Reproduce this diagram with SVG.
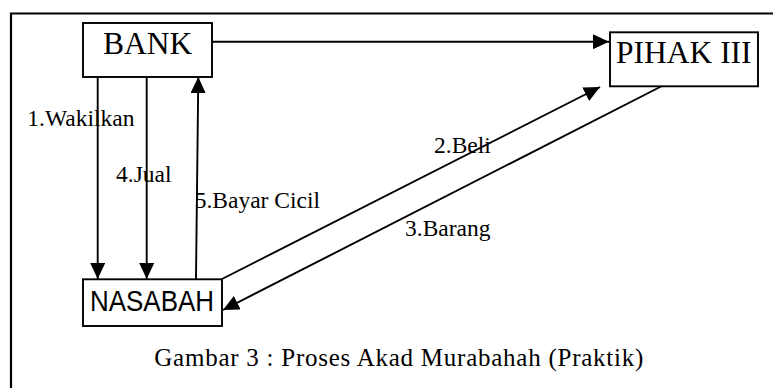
<svg xmlns="http://www.w3.org/2000/svg" width="773" height="388" viewBox="0 0 773 388">
<style>
.box{fill:#fff;stroke:#000;stroke-width:1.9}
.ln{stroke:#000;stroke-width:1.9;fill:none}
text{fill:#000}
</style>
<defs>
<marker id="ah" markerUnits="userSpaceOnUse" markerWidth="16" markerHeight="15" refX="16" refY="7.5" orient="auto">
<path d="M0,0 L16,7.5 L0,15 z" fill="#000"/>
</marker>
</defs>
<rect width="773" height="388" fill="#fff"/>
<g id="frame">
<path d="M11,388 V13.5 H773" fill="none" stroke="#000" stroke-width="2.2"/>
</g>
<g id="connectors">
<line class="ln" x1="212" y1="41.7" x2="609" y2="41.7" marker-end="url(#ah)"/>
<line class="ln" x1="97.7" y1="77" x2="97.7" y2="279" marker-end="url(#ah)"/>
<line class="ln" x1="146.7" y1="77" x2="146.7" y2="279" marker-end="url(#ah)"/>
<line class="ln" x1="196" y1="279" x2="198.3" y2="77" marker-end="url(#ah)"/>
<line class="ln" x1="222" y1="279" x2="600" y2="87" marker-end="url(#ah)"/>
<line class="ln" x1="662" y1="86" x2="223" y2="310" marker-end="url(#ah)"/>
</g>
<g id="labels" font-family="Liberation Serif, Times New Roman, serif" font-size="23.5">
<text x="27.3" y="126">1.Wakilkan</text>
<text x="116" y="181.7">4.Jual</text>
<text x="194.7" y="208.3">5.Bayar Cicil</text>
<text x="434" y="152.7">2.Beli</text>
<text x="405" y="235.7">3.Barang</text>
</g>
<g id="bank">
<rect class="box" x="83" y="23" width="129" height="54"/>
<text font-family="Liberation Serif, Times New Roman, serif" font-size="31.5" x="103" y="54">BANK</text>
</g>
<g id="pihak3">
<rect class="box" x="610" y="32.3" width="148" height="54"/>
<text font-family="Liberation Serif, Times New Roman, serif" font-size="31.5" x="616" y="63.3">PIHAK III</text>
</g>
<g id="nasabah">
<rect class="box" x="83" y="279.3" width="139" height="46.7"/>
<text font-family="Liberation Sans Narrow, Liberation Sans, Arial, sans-serif" font-size="30" x="90" y="310.7" textLength="124" lengthAdjust="spacingAndGlyphs">NASABAH</text>
</g>
<g id="caption">
<text font-family="Liberation Serif, Times New Roman, serif" font-size="25" x="154.3" y="365.7" textLength="489" lengthAdjust="spacing">Gambar 3 : Proses Akad Murabahah (Praktik)</text>
</g>
</svg>
